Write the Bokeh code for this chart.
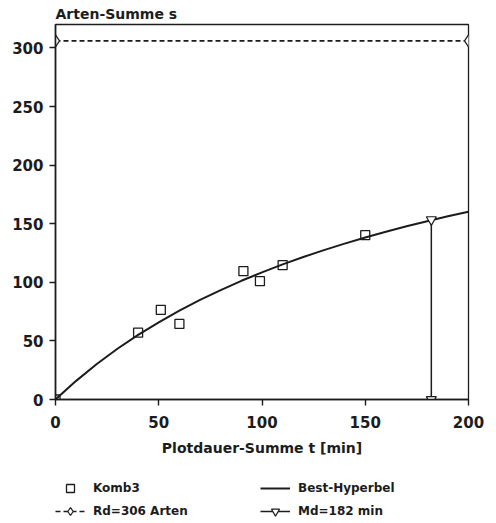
from bokeh.plotting import figure
from bokeh.models import Range1d, Legend, LegendItem, FixedTicker
from bokeh.layouts import column
from bokeh.embed import file_html
from bokeh.resources import INLINE

# observed points (Komb3)
t_obs = [0, 40, 51, 60, 91, 99, 110, 150]
s_obs = [0, 57, 76.5, 64.5, 109.5, 101, 114.7, 140.2]

# best hyperbola
curve_t = [0, 10, 20, 30, 40, 50, 60, 70, 80, 90, 100, 110, 120, 130, 140, 150, 160, 170, 180, 190, 200]
curve_s = [0, 15.9, 30.3, 43.3, 55.1, 65.9, 75.9, 85.0, 93.4, 101.3, 108.5, 115.3, 121.6, 127.5,
           133.0, 138.3, 143.2, 147.8, 152.1, 156.3, 160.2]

# Rd asymptote
rd_t = [0, 200]
rd_s = [306, 306]

# Md marker
md_t = [182, 182]
md_s = [0, 153.5]

x_ticks = [0, 50, 100, 150, 200]
y_ticks = [0, 50, 100, 150, 200, 250, 300]

INK = "#1c1c1c"
FONT = "DejaVu Sans"

p = figure(width=496, height=465, output_backend="svg", toolbar_location=None,
           x_range=Range1d(0, 200), y_range=Range1d(0, 320),
           min_border_left=55, min_border_right=28, min_border_top=24, min_border_bottom=66,
           title="Arten-Summe s")
p.background_fill_color = "white"
p.border_fill_color = "white"
p.grid.visible = False
p.outline_line_color = INK
p.outline_line_width = 1.3

p.title.text_font = FONT
p.title.text_font_size = "14px"
p.title.text_font_style = "bold"
p.title.text_color = INK
p.title.align = "left"
p.title.standoff = 6

for ax in (p.xaxis[0], p.yaxis[0]):
    ax.major_tick_in = 0
    ax.major_tick_out = 6
    ax.minor_tick_in = 0
    ax.minor_tick_out = 0
    ax.axis_line_width = 1.6
    ax.axis_line_color = INK
    ax.major_tick_line_color = INK
    ax.major_tick_line_width = 1.4
    ax.major_label_text_font = FONT
    ax.major_label_text_font_size = "15px"
    ax.major_label_text_font_style = "bold"
    ax.major_label_text_color = INK

p.xaxis.ticker = FixedTicker(ticks=x_ticks)
p.yaxis.ticker = FixedTicker(ticks=y_ticks)
p.xaxis.major_label_standoff = 10
p.yaxis.major_label_standoff = 6
p.xaxis.axis_label = "Plotdauer-Summe t [min]"
p.xaxis.axis_label_text_font = FONT
p.xaxis.axis_label_text_font_size = "14px"
p.xaxis.axis_label_text_font_style = "bold"
p.xaxis.axis_label_text_color = INK
p.xaxis.axis_label_standoff = 9

LINE_CURVE = dict(line_width=2, line_color=INK)
LINE_RD = dict(line_width=1.6, line_color=INK, line_dash="5 3")
MK_RD = dict(marker="diamond", size=12, line_color=INK, line_width=1.2, fill_color="white")
LINE_MD = dict(line_width=1.5, line_color=INK)
MK_MD = dict(marker="inverted_triangle", size=10, line_color=INK, line_width=1.2, fill_color="white")
MK_PTS = dict(marker="square", size=9, line_color=INK, line_width=1.3, fill_alpha=0)


def draw(fig):
    r = {}
    r["curve"] = fig.line(curve_t, curve_s, **LINE_CURVE)
    r["rd_line"] = fig.line(rd_t, rd_s, **LINE_RD)
    r["rd_pts"] = fig.scatter(rd_t, rd_s, **MK_RD)
    r["md_line"] = fig.line(md_t, md_s, **LINE_MD)
    r["md_pts"] = fig.scatter(md_t, md_s, **MK_MD)
    r["pts"] = fig.scatter(t_obs, s_obs, **MK_PTS)
    return r


draw(p)

# legend strip below the chart (its ranges show none of the data; only the legend is visible)
lg = figure(width=496, height=58, output_backend="svg", toolbar_location=None,
            x_range=Range1d(-20, -10), y_range=Range1d(-20, -10),
            x_axis_location=None, y_axis_location=None,
            min_border_left=0, min_border_right=0, min_border_top=0, min_border_bottom=0)
lg.grid.visible = False
lg.outline_line_color = None
lg.background_fill_color = "white"
lg.border_fill_color = "white"
g = draw(lg)

legend = Legend(items=[LegendItem(label="Komb3", renderers=[g["pts"]]),
                       LegendItem(label="Rd=306 Arten", renderers=[g["rd_line"], g["rd_pts"]]),
                       LegendItem(label="Best-Hyperbel", renderers=[g["curve"]]),
                       LegendItem(label="Md=182 min", renderers=[g["md_line"], g["md_pts"]])],
                ncols=2, location=(0, 2),
                padding=0, margin=0, spacing=3, glyph_height=20, glyph_width=30,
                label_height=20, label_width=164, label_standoff=8,
                border_line_alpha=0, background_fill_alpha=0,
                label_text_font=FONT, label_text_font_size="12px",
                label_text_font_style="bold", label_text_color=INK)
lg.add_layout(legend)

open("out.html", "w").write(file_html(column(p, lg, spacing=0), INLINE))
